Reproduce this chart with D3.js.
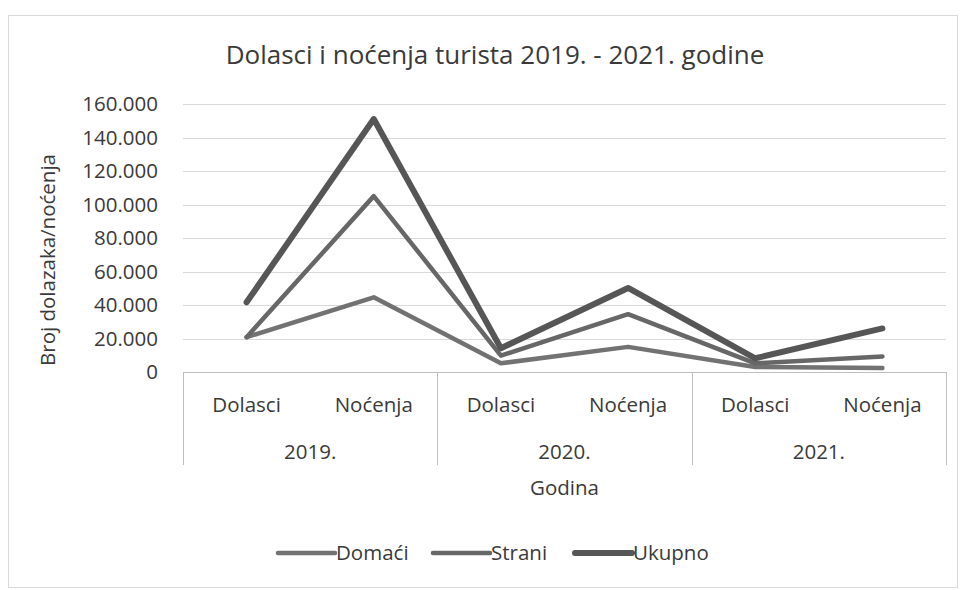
<!DOCTYPE html>
<html>
<head>
<meta charset="utf-8">
<script src="https://cdn.jsdelivr.net/npm/d3@7"></script>
<style>
  body { margin: 0; background: #fff; }
  svg { display: block; font-family: "Open Sans", sans-serif; }
</style>
</head>
<body>
<div id="chart"></div>
<script>
// data
const years = ["2019.", "2020.", "2021."];
const measures = ["Dolasci", "Noćenja"];
const domaci = [20800, 44600, 5200, 15000, 3000, 2400];
const strani = [20800, 105000, 9800, 34500, 5200, 9300];
const ukupno = [41600, 151000, 14200, 50200, 8200, 26000];
const yTicks = [0, 20000, 40000, 60000, 80000, 100000, 120000, 140000, 160000];

const series = [
  { name: "Domaći", values: domaci, color: "#727272", width: 4.5 },
  { name: "Strani", values: strani, color: "#676767", width: 4.5 },
  { name: "Ukupno", values: ukupno, color: "#565656", width: 6 }
];

const width = 963, height = 590;
const margin = { left: 183, right: 17, top: 104, bottom: 218 };

const svg = d3.select("#chart").append("svg")
  .attr("width", width).attr("height", height);

// outer chart border
svg.append("rect")
  .attr("x", 8.5).attr("y", 15.5)
  .attr("width", 949).attr("height", 572)
  .attr("fill", "none").attr("stroke", "#d9d9d9");

// categories: each year split into Dolasci / Noćenja
const cats = [];
years.forEach(y => measures.forEach(m => cats.push({ year: y, measure: m, key: y + m })));

const x = d3.scaleBand()
  .domain(cats.map(d => d.key))
  .range([margin.left, width - margin.right]);
const xYear = d3.scaleBand()
  .domain(years)
  .range([margin.left, width - margin.right]);
const y = d3.scaleLinear()
  .domain([0, 160000])
  .range([height - margin.bottom, margin.top]);

const fmt = d3.formatLocale({ decimal: ",", thousands: ".", grouping: [3], currency: ["", ""] }).format(",d");

// gridlines
svg.append("g")
  .selectAll("line")
  .data(yTicks.filter(d => d > 0))
  .join("line")
  .attr("x1", margin.left).attr("x2", width - margin.right)
  .attr("y1", d => Math.round(y(d)) + 0.5).attr("y2", d => Math.round(y(d)) + 0.5)
  .attr("stroke", "#d9d9d9").attr("stroke-width", 1);

// y axis labels
const yAxis = d3.axisLeft(y).tickValues(yTicks).tickFormat(fmt).tickSize(0).tickPadding(25);
const yg = svg.append("g")
  .attr("transform", `translate(${margin.left},0)`)
  .call(yAxis);
yg.select(".domain").remove();
yg.selectAll("text")
  .attr("font-family", "Open Sans, sans-serif")
  .attr("font-size", 20.5)
  .attr("fill", "#3a3a3a");

// x axis: baseline and group separators
const y0 = y(0);
svg.append("line")
  .attr("x1", margin.left).attr("x2", width - margin.right)
  .attr("y1", Math.round(y0) + 0.5).attr("y2", Math.round(y0) + 0.5)
  .attr("stroke", "#bfbfbf");
const seps = years.map(d => xYear(d)).concat([width - margin.right]);
svg.append("g")
  .selectAll("line")
  .data(seps)
  .join("line")
  .attr("x1", d => Math.round(d) + 0.5).attr("x2", d => Math.round(d) + 0.5)
  .attr("y1", y0).attr("y2", y0 + 93)
  .attr("stroke", "#bfbfbf");

svg.append("g")
  .selectAll("text")
  .data(cats)
  .join("text")
  .attr("x", d => x(d.key) + x.bandwidth() / 2)
  .attr("y", y0 + 40)
  .attr("text-anchor", "middle")
  .attr("font-size", 20.5)
  .attr("fill", "#3a3a3a")
  .text(d => d.measure);

svg.append("g")
  .selectAll("text")
  .data(years)
  .join("text")
  .attr("x", d => xYear(d) + xYear.bandwidth() / 2)
  .attr("y", y0 + 87)
  .attr("text-anchor", "middle")
  .attr("font-size", 20.5)
  .attr("fill", "#3a3a3a")
  .text(d => d);

// axis titles
svg.append("text")
  .attr("x", (margin.left + width - margin.right) / 2)
  .attr("y", 495)
  .attr("text-anchor", "middle")
  .attr("font-size", 20.5)
  .attr("fill", "#3a3a3a")
  .text("Godina");

svg.append("text")
  .attr("transform", "translate(55,260) rotate(-90)")
  .attr("text-anchor", "middle")
  .attr("font-size", 20.5)
  .attr("fill", "#3a3a3a")
  .text("Broj dolazaka/noćenja");

// title
svg.append("text")
  .attr("x", 495).attr("y", 64)
  .attr("text-anchor", "middle")
  .attr("font-size", 26)
  .attr("fill", "#3a3a3a")
  .text("Dolasci i noćenja turista 2019. - 2021. godine");

// lines
const line = d3.line()
  .x((d, i) => x(cats[i].key) + x.bandwidth() / 2)
  .y(d => y(d));

svg.append("g")
  .selectAll("path")
  .data(series)
  .join("path")
  .attr("d", d => line(d.values))
  .attr("fill", "none")
  .attr("stroke", d => d.color)
  .attr("stroke-width", d => d.width)
  .attr("stroke-linecap", "round")
  .attr("stroke-linejoin", "round");

// legend
const legendX = [278, 433, 575];
const legend = svg.append("g")
  .selectAll("g")
  .data(series)
  .join("g")
  .attr("transform", (d, i) => `translate(${legendX[i]},553)`);
legend.append("line")
  .attr("x1", 0).attr("x2", 57)
  .attr("stroke", d => d.color)
  .attr("stroke-width", d => d.width)
  .attr("stroke-linecap", "round");
legend.append("text")
  .attr("x", 58).attr("y", 7)
  .attr("font-size", 20.5)
  .attr("fill", "#3a3a3a")
  .text(d => d.name);
</script>
</body>
</html>
